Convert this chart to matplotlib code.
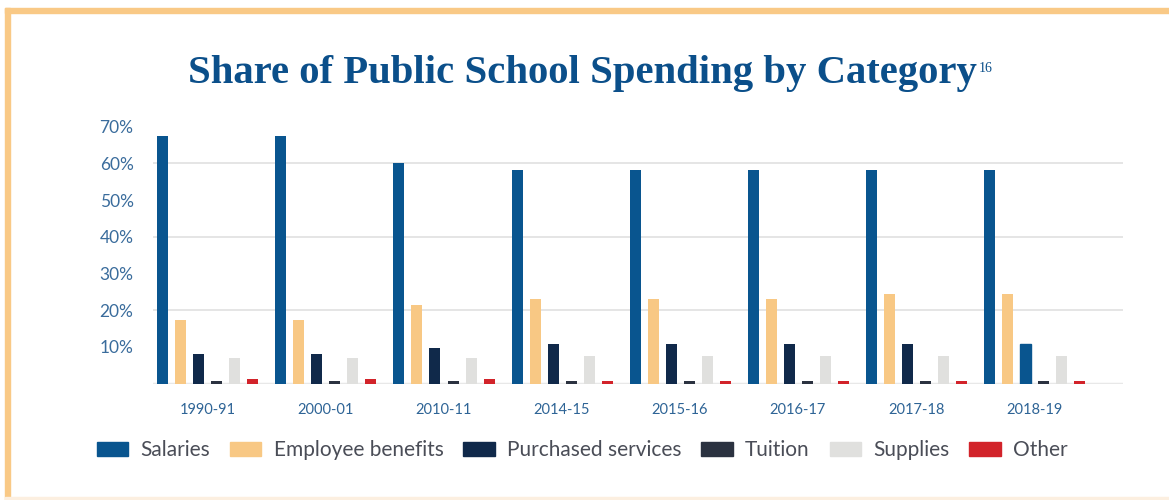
import numpy as np
import matplotlib.pyplot as plt
from matplotlib.patches import Rectangle

years = ['1990-91', '2000-01', '2010-11', '2014-15', '2015-16', '2016-17', '2017-18', '2018-19']
categories = ['Salaries', 'Employee benefits', 'Purchased services', 'Tuition', 'Supplies', 'Other']
salaries = [67.4, 67.4, 60.0, 58.2, 58.2, 58.2, 58.2, 58.2]
benefits = [17.3, 17.3, 21.4, 23.0, 23.0, 23.0, 24.3, 24.3]
purchased = [8.1, 8.1, 9.7, 10.7, 10.7, 10.7, 10.7, 10.7]
tuition = [0.7, 0.7, 0.8, 0.8, 0.8, 0.8, 0.8, 0.8]
supplies = [7.1, 7.1, 7.1, 7.5, 7.5, 7.5, 7.5, 7.5]
other = [1.3, 1.3, 1.3, 0.8, 0.8, 0.8, 0.8, 0.8]
series = [salaries, benefits, purchased, tuition, supplies, other]
colors = ['#09558f', '#f8c884', '#10294a', '#2b3240', '#e0e0de', '#d2232a']
yticks = [10, 20, 30, 40, 50, 60, 70]
grid_levels = [20, 40, 60]

plt.rcParams['font.family'] = ['Lato', 'DejaVu Sans']

fig = plt.figure(figsize=(11.69, 5), dpi=100)
ax = fig.add_axes([153/1169, 1-383.7/500, 970/1169, (383.7-126.6)/500])

x = np.arange(len(years))
pitch = 18/118
width = 11/118
bars = []
for j, (vals, c, name) in enumerate(zip(series, colors, categories)):
    b = ax.bar(x + (j-2.5)*pitch, vals, width, color=c, label=name, zorder=3)
    bars.append(b)
# in the source the last purchased-services bar is drawn in the salaries blue
bars[2][-1].set_color(colors[0])

for g in grid_levels:
    ax.axhline(g, color='#e0e0e0', lw=1.2, zorder=1)
ax.axhline(0, color='#e8e8e8', lw=2.5, zorder=2)

ax.set_xlim(-0.466, 7.754)
ax.set_ylim(0, 70)
ax.set_yticks(yticks)
ax.set_yticklabels([f'{v}%' for v in yticks], color='#3a6c9c', fontsize=12.5)
ax.set_xticks(x)
ax.set_xticklabels(years, color='#2e6496', fontsize=10.5)
ax.tick_params(length=0)
ax.tick_params(axis='y', pad=14)
ax.tick_params(axis='x', pad=14)
for s in ax.spines.values():
    s.set_visible(False)

handles = [Rectangle((0, 0), 1, 1, color=c) for c in colors]
leg = fig.legend(handles, categories, loc='center', bbox_to_anchor=(0.498, 1-450/500),
                 ncol=6, frameon=False, fontsize=15, handlelength=1.5, handleheight=0.65,
                 columnspacing=0.95, handletextpad=0.6)
for t in leg.get_texts():
    t.set_color('#4a4d57')

title = fig.text(0.4986, 1-73/500, 'Share of Public School Spending by Category', ha='center', va='center',
                 fontsize=29.3, fontweight='bold', family='Liberation Serif', color='#0b4f8a')
fig.canvas.draw()
bb = title.get_window_extent()
fig.text((bb.x1+1)/fig.bbox.width, (bb.y1-7)/fig.bbox.height, '16', ha='left', va='top',
         fontsize=10, family='Liberation Serif', color='#0b4f8a')

# frame
border = '#f9c986'
fig.add_artist(Rectangle((5/1169, 1-13/500), 1, 5/500, transform=fig.transFigure, color=border))
fig.add_artist(Rectangle((5/1169, 0), 5/1169, 1-8/500, transform=fig.transFigure, color=border))
fig.add_artist(Rectangle((5/1169, 0), 1, 3/500, transform=fig.transFigure, color='#fcefe0'))

fig.savefig('out.png', dpi=100)
